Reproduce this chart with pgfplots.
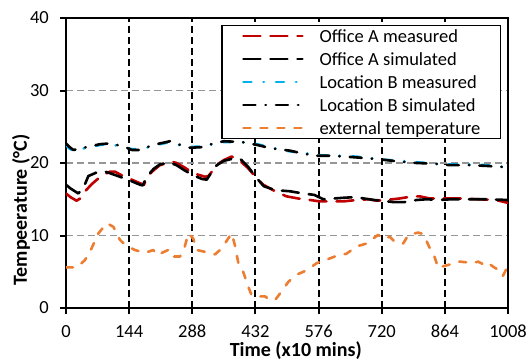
\documentclass[border=0pt]{standalone}
\usepackage{fontspec}
\setmainfont{Carlito}
\usepackage{pgfplots}
\pgfplotsset{compat=1.18}
\definecolor{cRed}{RGB}{192,0,0}
\definecolor{cCyan}{RGB}{0,176,240}
\definecolor{cOrange}{RGB}{237,125,49}
\definecolor{cGray}{RGB}{150,150,150}
\begin{document}
\begin{tikzpicture}
\begin{axis}[
  scale only axis, width=442bp, height=290bp,
  xmin=0, xmax=1008, ymin=0, ymax=40,
  xtick={0,144,288,432,576,720,864,1008}, ytick={0,10,20,30,40},
  xmajorgrids, ymajorgrids,
  x grid style={black, line width=2.1bp, dash pattern=on 7bp off 4bp},
  y grid style={cGray, line width=1.8bp, dash pattern=on 7bp off 4bp},
  axis line style={line width=2.2bp},
  tick align=outside, tick pos=left,
  major tick length=6bp,
  tick style={line width=2bp, black},
  ticklabel style={font=\fontsize{18.5bp}{22bp}\selectfont},
  yticklabel style={inner xsep=0pt, xshift=-11bp},
  xticklabel style={inner ysep=0pt, yshift=-11bp},
  /pgf/number format/assume math mode=true,
  /pgf/number format/1000 sep={},
  label style={font=\bfseries\fontsize{20bp}{24bp}\selectfont},
  xlabel={Time (x10 mins)},
  ylabel={Tempeerature (°C)},
  xlabel style={at={(axis description cs:0.52,-0.147)}, anchor=center},
  ylabel style={at={(axis description cs:-0.1018,0.338)}, anchor=center},
  legend style={at={(0.9842,0.9759)}, anchor=north east, draw=black, line width=1.3bp, fill=white,
    font=\fontsize{18.5bp}{22bp}\selectfont, inner xsep=20bp, inner ysep=4bp, row sep=10bp, column sep=16bp,
    nodes={inner sep=0pt, text height=13bp, text depth=0bp}},
  legend cell align=left,
  legend image code/.code={\draw[#1] (0bp,0bp) -- (59bp,0bp);},
]
\addplot[cRed, line width=2.6bp, line cap=round, line join=round, dash pattern=on 17bp off 10bp] coordinates {
(0,15.8) (10,15.3) (24,14.8) (35,15.2) (45,16.2) (59,17.1) (80,18.2) (100,18.8) (112,18.8) (127,18.3) (150,17.7) (169,17.2) (178,17.0) (184,18.1) (200,19.0) (214,19.7) (241,20.2) (252,20.0) (270,19.4) (290,18.6) (317,18.1) (325,18.2) (330,18.6) (345,19.8) (360,20.4) (378,20.9) (395,20.4) (415,19.3) (435,17.9) (450,17.0) (465,16.5) (480,16.0) (503,15.4) (530,15.1) (556,14.9) (579,14.7) (600,14.7) (632,14.7) (663,14.9) (690,15.0) (709,14.8) (730,14.9) (760,15.1) (790,15.4) (807,15.4) (830,15.1) (864,15.1) (900,15.1) (940,15.0) (980,14.9) (1008,14.5)};
\addlegendentry{Office A measured}
\addplot[black, line width=2.6bp, line cap=round, line join=round, dash pattern=on 17bp off 10bp] coordinates {
(0,17.0) (10,16.5) (28,15.8) (40,16.6) (51,18.2) (70,18.7) (85,18.9) (100,18.6) (123,18.1) (145,17.6) (169,17.0) (175,16.9) (184,18.1) (200,19.2) (214,19.8) (235,20.1) (252,19.7) (270,19.0) (290,18.3) (310,17.8) (321,17.7) (335,19.0) (344,19.7) (360,20.3) (380,20.6) (397,20.6) (415,19.5) (435,17.9) (451,16.8) (470,16.4) (490,16.2) (511,16.1) (540,15.8) (566,15.6) (587,15.0) (610,15.1) (632,15.2) (660,15.3) (680,15.1) (702,14.9) (720,14.8) (748,14.6) (771,14.6) (800,14.9) (823,15.0) (850,14.9) (880,15.0) (920,15.0) (960,15.0) (1008,14.9)};
\addlegendentry{Office A simulated}
\addplot[cCyan, line width=2.6bp, line cap=round, line join=round, dash pattern=on 8bp off 12bp on 0.5bp off 12bp] coordinates {
(0,22.5) (8,22.0) (17,21.7) (40,22.0) (78,22.5) (100,22.6) (131,22.2) (150,21.9) (169,21.9) (190,22.2) (207,22.5) (237,22.9) (256,22.5) (283,22.2) (313,22.3) (336,22.6) (360,22.9) (400,22.9) (435,22.6) (470,22.1) (511,21.6) (540,21.4) (572,21.1) (600,21.0) (632,21.0) (678,20.8) (716,20.5) (760,20.3) (800,20.1) (840,19.9) (876,19.8) (920,19.8) (959,19.7) (1008,19.4)};
\addlegendentry{Location B measured}
\addplot[black, line width=2.6bp, line cap=round, line join=round, dash pattern=on 12bp off 10bp on 0.5bp off 10bp] coordinates {
(0,22.7) (8,22.2) (17,21.8) (40,22.1) (78,22.6) (100,22.7) (131,22.3) (150,21.8) (169,21.8) (190,22.3) (207,22.6) (237,23.0) (256,22.6) (283,22.1) (313,22.2) (336,22.7) (360,23.0) (400,22.9) (435,22.5) (470,22.0) (511,21.7) (540,21.3) (572,21.0) (600,21.0) (632,20.9) (678,20.7) (716,20.5) (760,20.2) (800,20.0) (840,19.9) (876,19.7) (920,19.7) (959,19.6) (1008,19.4)};
\addlegendentry{Location B simulated}
\addplot[cOrange, line width=2.6bp, line cap=round, line join=round, dash pattern=on 7bp off 10bp] coordinates {
(0,5.6) (25,5.6) (43,6.6) (55,7.8) (74,10.3) (93,11.7) (108,11.2) (123,9.4) (135,8.7) (157,8.0) (180,7.6) (199,8.0) (207,7.3) (233,8.0) (241,7.1) (260,7.1) (271,8.5) (279,10.3) (290,9.6) (298,8.0) (313,7.8) (340,7.4) (355,8.2) (370,9.6) (378,10.3) (385,8.7) (393,6.2) (404,5.0) (416,2.9) (423,1.8) (435,1.6) (454,1.6) (465,1.1) (477,1.1) (488,2.0) (507,3.6) (526,4.6) (549,5.2) (572,6.2) (591,6.6) (613,7.1) (640,7.5) (663,8.5) (686,8.9) (712,10.1) (720,9.6) (739,9.8) (750,9.1) (769,8.9) (781,10.1) (803,10.4) (815,10.2) (830,8.2) (839,7.3) (849,5.5) (857,5.7) (887,6.2) (898,6.4) (929,6.2) (940,6.4) (955,5.9) (963,6.2) (974,5.7) (985,5.3) (996,4.4) (1008,5.8)};
\addlegendentry{external temperature}
\end{axis}
\pgfresetboundingbox
\path (-66bp,-53bp) rectangle (462bp,308bp);
\end{tikzpicture}
\end{document}
